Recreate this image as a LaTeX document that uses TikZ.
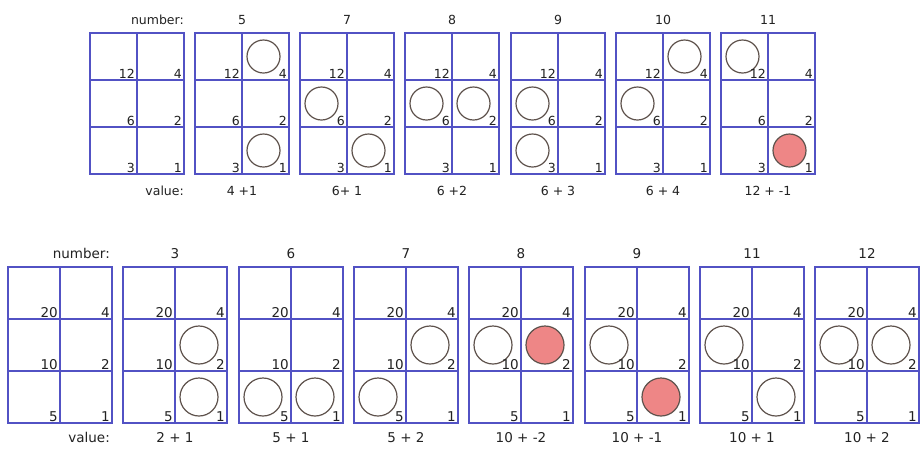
\documentclass[tikz,border=0pt]{standalone}
\usepackage{fontspec}
\setmainfont{DejaVu Sans}
\definecolor{gridc}{HTML}{5252C4}
\definecolor{ringc}{HTML}{5E524C}
\definecolor{redc}{HTML}{EE8686}
\definecolor{txtc}{HTML}{222222}
\tikzset{
  gridline/.style={draw=gridc, line width=1.5pt},
  ring/.style={circle, draw=ringc, line width=1.2pt, inner sep=0pt},
  redring/.style={ring, fill=redc},
  toptext/.style={text=txtc, font=\fontsize{12.5}{14}\selectfont, inner sep=0pt},
  bottext/.style={text=txtc, font=\fontsize{13.5}{15}\selectfont, inner sep=0pt},
}
% #1 name, #2 left x, #3 top y, #4 cell w, #5 cell h
\newcommand{\drawboard}[5]{%
  \draw[gridline] (#2,-#3) rectangle ++(2*#4,-3*#5);
  \draw[gridline] (#2+#4,-#3) -- ++(0,-3*#5);
  \draw[gridline] (#2,-#3-#5) -- ++(2*#4,0);
  \draw[gridline] (#2,-#3-2*#5) -- ++(2*#4,0);
  \foreach \rr in {0,1,2} {
    \foreach \cc in {0,1} {
      \coordinate (#1-\rr\cc) at (#2+\cc*#4+0.5*#4-2, -#3-\rr*#5-0.5*#5);
      \coordinate (#1-k\rr\cc) at (#2+\cc*#4+#4-2, -#3-\rr*#5-#5+1.5);
    }
  }
}
% labels: #1 board name, #2 style, #3..#8 labels
\newcommand{\boardlabels}[8]{%
  \node[#2, anchor=south east] (#1-l00) at (#1-k00) {#3};
  \node[#2, anchor=south east] (#1-l01) at (#1-k01) {#4};
  \node[#2, anchor=south east] (#1-l10) at (#1-k10) {#5};
  \node[#2, anchor=south east] (#1-l11) at (#1-k11) {#6};
  \node[#2, anchor=south east] (#1-l20) at (#1-k20) {#7};
  \node[#2, anchor=south east] (#1-l21) at (#1-k21) {#8};
}
\begin{document}
\begin{tikzpicture}[x=1pt,y=1pt]
\useasboundingbox (0,0) rectangle (920,-448);
\fill[white] (0,0) rectangle (920,-448);
% ---------- top row ----------
\foreach \k/\xx in {0/90,1/195,2/300,3/405,4/511,5/616,6/721} {
  \drawboard{t\k}{\xx}{33}{47}{47}
}
\node[toptext, anchor=base east] (tnum) at (184,-24) {number:};
\node[toptext, anchor=base east] (tval) at (184,-195) {value:};
\foreach \k/\xx/\n/\v in {1/195/5/{4 +1}, 2/300/7/{6+ 1}, 3/405/8/{6 +2}, 4/511/9/{6 + 3}, 5/616/10/{6 + 4}, 6/721/11/{12 + -1}} {
  \pgfmathsetmacro\xc{\xx+47}
  \node[toptext, anchor=base] (tn\k) at (\xc,-24) {\n};
  \node[toptext, anchor=base] (tv\k) at (\xc,-195) {\v};
}
\tikzset{tc/.style={ring, minimum size=33pt}, trc/.style={redring, minimum size=33pt}}
\node[tc] (c1a) at (t1-01) {};
\node[tc] (c1b) at (t1-21) {};
\node[tc] (c2a) at (t2-10) {};
\node[tc] (c2b) at (t2-21) {};
\node[tc] (c3a) at (t3-10) {};
\node[tc] (c3b) at (t3-11) {};
\node[tc] (c4a) at (t4-10) {};
\node[tc] (c4b) at (t4-20) {};
\node[tc] (c5a) at (t5-01) {};
\node[tc] (c5b) at (t5-10) {};
\node[tc] (c6a) at (t6-00) {};
\node[trc] (c6b) at (t6-21) {};
\foreach \k in {0,...,6} {
  \boardlabels{t\k}{toptext}{12}{4}{6}{2}{3}{1}
}
% ---------- bottom row ----------
\foreach \k/\xx in {0/8,1/123,2/239,3/354,4/469,5/585,6/700,7/815} {
  \drawboard{b\k}{\xx}{267}{52}{52}
}
\node[bottext, anchor=base east] (bnum) at (110,-258) {number:};
\node[bottext, anchor=base east] (bval) at (110,-442) {value:};
\foreach \k/\xx/\n/\v in {1/123/3/{2 + 1}, 2/239/6/{5 + 1}, 3/354/7/{5 + 2}, 4/469/8/{10 + -2}, 5/585/9/{10 + -1}, 6/700/11/{10 + 1}, 7/815/12/{10 + 2}} {
  \pgfmathsetmacro\xc{\xx+52}
  \node[bottext, anchor=base] (bn\k) at (\xc,-258) {\n};
  \node[bottext, anchor=base] (bv\k) at (\xc,-442) {\v};
}
\tikzset{bc/.style={ring, minimum size=38pt}, brc/.style={redring, minimum size=38pt}}
\node[bc] (d1a) at (b1-11) {};
\node[bc] (d1b) at (b1-21) {};
\node[bc] (d2a) at (b2-20) {};
\node[bc] (d2b) at (b2-21) {};
\node[bc] (d3a) at (b3-11) {};
\node[bc] (d3b) at (b3-20) {};
\node[bc] (d4a) at (b4-10) {};
\node[brc] (d4b) at (b4-11) {};
\node[bc] (d5a) at (b5-10) {};
\node[brc] (d5b) at (b5-21) {};
\node[bc] (d6a) at (b6-10) {};
\node[bc] (d6b) at (b6-21) {};
\node[bc] (d7a) at (b7-10) {};
\node[bc] (d7b) at (b7-11) {};
\foreach \k in {0,...,7} {
  \boardlabels{b\k}{bottext}{20}{4}{10}{2}{5}{1}
}
\end{tikzpicture}
\end{document}
